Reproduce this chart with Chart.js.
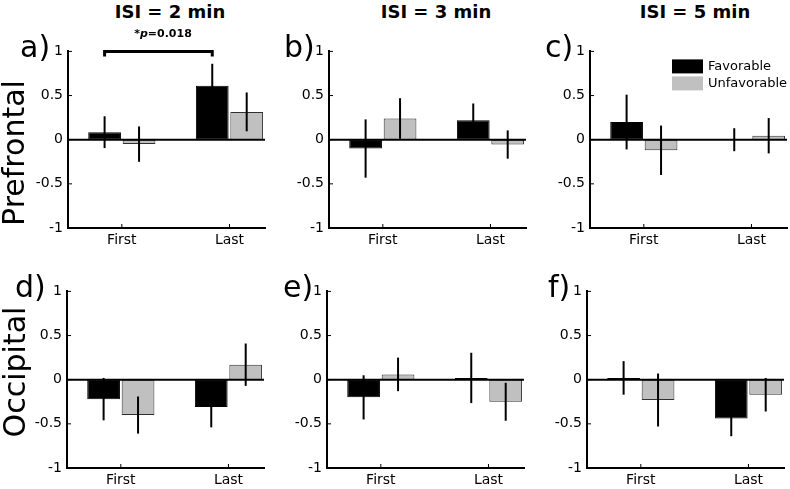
<!DOCTYPE html>
<html>
<head>
<meta charset="utf-8">
<script src="https://cdn.jsdelivr.net/npm/chart.js@4"></script>
<style>
  body { margin: 0; background: #fff; }
  #wrap { position: relative; width: 790px; height: 489px; overflow: hidden; font-family: "DejaVu Sans", sans-serif; color: #000; }
  #wrap canvas { position: absolute; }
  .txt { position: absolute; white-space: nowrap; line-height: 1; }
</style>
</head>
<body>
<div id="wrap"></div>
<script>
const categories = ['First', 'Last'];
const seriesNames = ['Favorable', 'Unfavorable'];
const panelLetters = ['a)', 'b)', 'c)', 'd)', 'e)', 'f)'];
const isiTitles = ['ISI = 2 min', 'ISI = 3 min', 'ISI = 5 min'];
const regionNames = ['Prefrontal', 'Occipital'];
const yTickValues = [-1, -0.5, 0, 0.5, 1];

// one row per panel a..f, values for [First, Last]
const favorableMean   = [[0.085, 0.61], [-0.10, 0.22], [0.20, 0.0], [-0.22, -0.31], [-0.20, 0.02], [0.02, -0.44]];
const favorableErr    = [[0.18, 0.25], [0.33, 0.19], [0.31, 0.13], [0.24, 0.23], [0.25, 0.285], [0.19, 0.20]];
const unfavorableMean = [[-0.05, 0.315], [0.24, -0.055], [-0.12, 0.045], [-0.40, 0.17], [0.06, -0.25], [-0.23, -0.17]];
const unfavorableErr  = [[0.20, 0.22], [0.23, 0.16], [0.28, 0.20], [0.21, 0.24], [0.19, 0.215], [0.30, 0.19]];
const pValueText = '=0.018';

// plot area top-left corners, px
const plotCorners = [[68, 48], [329, 48], [590, 48], [67, 288], [327, 288], [587, 288]];
const PW = 197, PH = 180, YW = 40, XH = 24, PADT = 10, PADR = 4;
const FONT = '"DejaVu Sans", sans-serif';

const wrap = document.getElementById('wrap');

function addText(html, css) {
  const d = document.createElement('div');
  d.className = 'txt';
  d.innerHTML = html;
  Object.assign(d.style, css);
  wrap.appendChild(d);
  return d;
}

function line(ctx, x1, y1, x2, y2) {
  ctx.beginPath();
  ctx.moveTo(x1, y1);
  ctx.lineTo(x2, y2);
  ctx.stroke();
}

const extras = {
  id: 'extras',
  afterDatasetsDraw(chart) {
    const { ctx, chartArea: a, scales: { x, y } } = chart;
    const opts = chart.options.plugins.extras || {};
    ctx.save();
    ctx.strokeStyle = '#000';
    // zero line
    ctx.lineWidth = 2;
    const y0 = y.getPixelForValue(0);
    line(ctx, a.left, y0, a.right, y0);
    // inward ticks like matlab
    ctx.lineWidth = 1;
    yTickValues.forEach(v => {
      const py = y.getPixelForValue(v);
      line(ctx, a.left, py, a.left + 4, py);
    });
    [1, 2].forEach(v => {
      const px = x.getPixelForValue(v);
      line(ctx, px, a.bottom, px, a.bottom - 4);
    });
    // error bars
    ctx.lineWidth = 2;
    chart.data.datasets.forEach((ds, di) => {
      chart.getDatasetMeta(di).data.forEach((bar, i) => {
        const m = ds.data[i].y, e = ds.errors[i];
        line(ctx, bar.x, y.getPixelForValue(m + e), bar.x, y.getPixelForValue(m - e));
      });
    });
    // significance bracket
    if (opts.bracket) {
      const bars = chart.getDatasetMeta(0).data;
      const top = a.top;
      ctx.lineWidth = 3;
      ctx.beginPath();
      ctx.moveTo(bars[0].x, top + 5);
      ctx.lineTo(bars[0].x, top);
      ctx.lineTo(bars[1].x, top);
      ctx.lineTo(bars[1].x, top + 5);
      ctx.stroke();
    }
    // legend inside the axes
    if (opts.legend) {
      const lx = a.left + 82, ly = a.top + 8;
      ctx.font = '13px ' + FONT;
      ctx.textBaseline = 'middle';
      chart.data.datasets.forEach((ds, i) => {
        ctx.fillStyle = ds.backgroundColor;
        ctx.fillRect(lx, ly + i * 17, 31, 14);
        ctx.fillStyle = '#000';
        ctx.fillText(ds.label, lx + 36, ly + i * 17 + 7);
      });
    }
    ctx.restore();
  }
};

function makePanel(idx) {
  const [px, py] = plotCorners[idx];
  const cv = document.createElement('canvas');
  const w = YW + PW + PADR, h = PADT + PH + XH;
  cv.width = w; cv.height = h;
  cv.style.left = (px - YW) + 'px';
  cv.style.top = (py - PADT) + 'px';
  cv.style.width = w + 'px';
  cv.style.height = h + 'px';
  wrap.appendChild(cv);

  const toPoints = vals => vals.map((v, i) => ({ x: i + 1, y: v }));

  new Chart(cv, {
    type: 'bar',
    data: {
      datasets: [{
        label: seriesNames[0],
        data: toPoints(favorableMean[idx]),
        errors: favorableErr[idx],
        backgroundColor: '#000000',
        borderColor: '#000000',
        borderWidth: 1,
        borderSkipped: false
      }, {
        label: seriesNames[1],
        data: toPoints(unfavorableMean[idx]),
        errors: unfavorableErr[idx],
        backgroundColor: '#c0c0c0',
        borderColor: '#303030',
        borderWidth: 1,
        borderSkipped: false
      }]
    },
    options: {
      responsive: false,
      animation: false,
      categoryPercentage: 0.64,
      barPercentage: 0.95,
      layout: { padding: { top: PADT, right: PADR, left: 0, bottom: 0 } },
      plugins: {
        legend: { display: false },
        tooltip: { enabled: false },
        extras: { bracket: idx === 0, legend: idx === 2 }
      },
      scales: {
        x: {
          type: 'linear',
          min: 0.5,
          max: 2.33,
          offset: false,
          grid: { display: false, drawTicks: false },
          border: { display: true, color: '#000', width: 2 },
          afterBuildTicks: s => { s.ticks = [{ value: 1 }, { value: 2 }]; },
          afterFit: s => { s.height = XH; },
          ticks: {
            color: '#000',
            padding: 4,
            maxRotation: 0,
            font: { family: FONT, size: 14 },
            callback: v => categories[v - 1]
          }
        },
        y: {
          min: -1,
          max: 1,
          grid: { display: false, drawTicks: false },
          border: { display: true, color: '#000', width: 2 },
          afterFit: s => { s.width = YW; },
          ticks: {
            stepSize: 0.5,
            color: '#000',
            padding: 5,
            font: { family: FONT, size: 14 },
            callback: v => String(v)
          }
        }
      }
    },
    plugins: [extras]
  });
}

for (let i = 0; i < 6; i++) makePanel(i);

// column titles
const titleCenters = [170, 436, 695];
isiTitles.forEach((t, i) => {
  addText(t, { left: titleCenters[i] + 'px', top: '3px', fontSize: '18px', fontWeight: 'bold', transform: 'translateX(-50%)' });
});

// panel letters
const letterPos = [[20, 32], [284, 32], [545, 32], [15, 272], [283, 272], [548, 272]];
panelLetters.forEach((t, i) => {
  addText(t, { left: letterPos[i][0] + 'px', top: letterPos[i][1] + 'px', fontSize: '30px' });
});

// row labels
const regionCenters = [[14, 153], [15, 372]];
regionNames.forEach((t, i) => {
  addText(t, {
    left: regionCenters[i][0] + 'px', top: regionCenters[i][1] + 'px', fontSize: '30px',
    transform: 'translate(-50%, -50%) rotate(-90deg)'
  });
});

// p-value note
addText('*<i>p</i>' + pValueText, { left: '163px', top: '28px', fontSize: '11px', fontWeight: 'bold', transform: 'translateX(-50%)' });
</script>
</body>
</html>
